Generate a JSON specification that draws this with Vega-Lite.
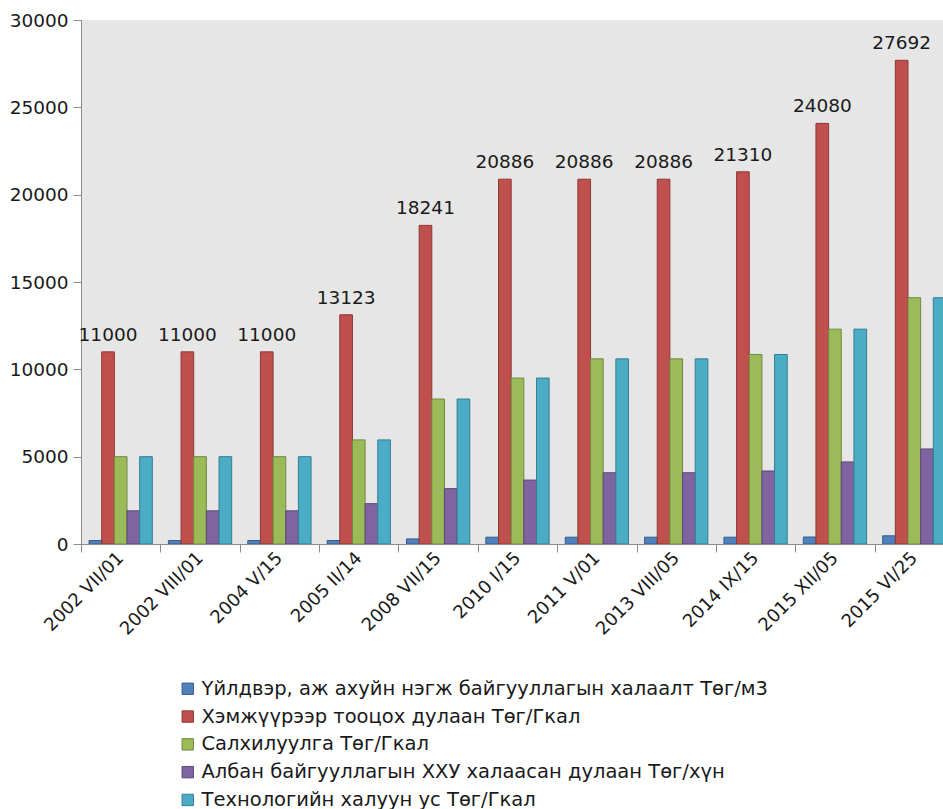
{
  "$schema": "https://vega.github.io/schema/vega-lite/v6.json",
  "width": 862,
  "height": 524,
  "autosize": {"type": "none"},
  "padding": {"left": 81, "top": 20, "right": 0, "bottom": 265},
  "config": {
    "font": "DejaVu Sans",
    "view": {"fill": "#e6e6e6", "stroke": null},
    "axis": {"domainColor": "#8c8c8c", "tickColor": "#8c8c8c", "labelColor": "#1a1a1a", "grid": false, "title": null}
  },
  "data": {
    "values": [
      {"date": "2002 VII/01", "s": 1, "v": 200}, {"date": "2002 VII/01", "s": 2, "v": 11000}, {"date": "2002 VII/01", "s": 3, "v": 5000}, {"date": "2002 VII/01", "s": 4, "v": 1900}, {"date": "2002 VII/01", "s": 5, "v": 5000},
      {"date": "2002 VIII/01", "s": 1, "v": 200}, {"date": "2002 VIII/01", "s": 2, "v": 11000}, {"date": "2002 VIII/01", "s": 3, "v": 5000}, {"date": "2002 VIII/01", "s": 4, "v": 1900}, {"date": "2002 VIII/01", "s": 5, "v": 5000},
      {"date": "2004 V/15", "s": 1, "v": 200}, {"date": "2004 V/15", "s": 2, "v": 11000}, {"date": "2004 V/15", "s": 3, "v": 5000}, {"date": "2004 V/15", "s": 4, "v": 1900}, {"date": "2004 V/15", "s": 5, "v": 5000},
      {"date": "2005 II/14", "s": 1, "v": 200}, {"date": "2005 II/14", "s": 2, "v": 13123}, {"date": "2005 II/14", "s": 3, "v": 5960}, {"date": "2005 II/14", "s": 4, "v": 2310}, {"date": "2005 II/14", "s": 5, "v": 5960},
      {"date": "2008 VII/15", "s": 1, "v": 290}, {"date": "2008 VII/15", "s": 2, "v": 18241}, {"date": "2008 VII/15", "s": 3, "v": 8300}, {"date": "2008 VII/15", "s": 4, "v": 3170}, {"date": "2008 VII/15", "s": 5, "v": 8300},
      {"date": "2010 I/15", "s": 1, "v": 390}, {"date": "2010 I/15", "s": 2, "v": 20886}, {"date": "2010 I/15", "s": 3, "v": 9500}, {"date": "2010 I/15", "s": 4, "v": 3660}, {"date": "2010 I/15", "s": 5, "v": 9500},
      {"date": "2011 V/01", "s": 1, "v": 390}, {"date": "2011 V/01", "s": 2, "v": 20886}, {"date": "2011 V/01", "s": 3, "v": 10600}, {"date": "2011 V/01", "s": 4, "v": 4080}, {"date": "2011 V/01", "s": 5, "v": 10600},
      {"date": "2013 VIII/05", "s": 1, "v": 390}, {"date": "2013 VIII/05", "s": 2, "v": 20886}, {"date": "2013 VIII/05", "s": 3, "v": 10600}, {"date": "2013 VIII/05", "s": 4, "v": 4080}, {"date": "2013 VIII/05", "s": 5, "v": 10600},
      {"date": "2014 IX/15", "s": 1, "v": 390}, {"date": "2014 IX/15", "s": 2, "v": 21310}, {"date": "2014 IX/15", "s": 3, "v": 10850}, {"date": "2014 IX/15", "s": 4, "v": 4180}, {"date": "2014 IX/15", "s": 5, "v": 10850},
      {"date": "2015 XII/05", "s": 1, "v": 400}, {"date": "2015 XII/05", "s": 2, "v": 24080}, {"date": "2015 XII/05", "s": 3, "v": 12300}, {"date": "2015 XII/05", "s": 4, "v": 4700}, {"date": "2015 XII/05", "s": 5, "v": 12300},
      {"date": "2015 VI/25", "s": 1, "v": 470}, {"date": "2015 VI/25", "s": 2, "v": 27692}, {"date": "2015 VI/25", "s": 3, "v": 14100}, {"date": "2015 VI/25", "s": 4, "v": 5440}, {"date": "2015 VI/25", "s": 5, "v": 14100}
    ]
  },
  "transform": [
    {"lookup": "s", "from": {"data": {"values": [
      {"s": 1, "series": "Үйлдвэр, аж ахуйн нэгж байгууллагын халаалт Төг/м3"},
      {"s": 2, "series": "Хэмжүүрээр тооцох дулаан Төг/Гкал"},
      {"s": 3, "series": "Салхилуулга Төг/Гкал"},
      {"s": 4, "series": "Албан байгууллагын ХХУ халаасан дулаан Төг/хүн"},
      {"s": 5, "series": "Технологийн халуун ус Төг/Гкал"}
    ]}, "key": "s", "fields": ["series"]}}
  ],
  "encoding": {
    "x": {
      "field": "date", "type": "nominal", "sort": null,
      "scale": {"paddingInner": 0, "paddingOuter": 0, "range": [0, 873]},
      "axis": {"tickBand": "extent", "tickSize": 8, "labelAngle": -45, "labelFontSize": 18, "labelPadding": 3, "labelAlign": "right", "labelBaseline": "middle"}
    },
    "xOffset": {
      "field": "s", "type": "ordinal", "sort": "ascending",
      "scale": {"paddingInner": 0, "paddingOuter": 0.635}
    },
    "y": {
      "field": "v", "type": "quantitative",
      "scale": {"domain": [0, 30000], "nice": false},
      "axis": {"values": [0, 5000, 10000, 15000, 20000, 25000, 30000], "format": "d", "tickSize": 8, "labelFontSize": 18.5, "labelPadding": 5}
    }
  },
  "layer": [
    {
      "mark": {"type": "bar", "strokeWidth": 1, "clip": true},
      "encoding": {
        "color": {
          "field": "series", "type": "nominal",
          "scale": {
            "domain": ["Үйлдвэр, аж ахуйн нэгж байгууллагын халаалт Төг/м3", "Хэмжүүрээр тооцох дулаан Төг/Гкал", "Салхилуулга Төг/Гкал", "Албан байгууллагын ХХУ халаасан дулаан Төг/хүн", "Технологийн халуун ус Төг/Гкал"],
            "range": ["#4f81bd", "#c0504d", "#9bbb59", "#8064a2", "#4bacc6"]
          },
          "legend": {
            "title": null, "orient": "none", "legendX": 97, "legendY": 659,
            "direction": "vertical", "columns": 1, "padding": 0,
            "symbolType": "square", "symbolSize": 130, "symbolStrokeWidth": 1, "symbolStrokeColor": "#555",
            "labelFontSize": 19.5, "labelColor": "#1a1a1a", "rowPadding": 6.8, "labelOffset": 4, "labelLimit": 800
          }
        },
        "stroke": {
          "field": "series", "type": "nominal",
          "scale": {
            "domain": ["Үйлдвэр, аж ахуйн нэгж байгууллагын халаалт Төг/м3", "Хэмжүүрээр тооцох дулаан Төг/Гкал", "Салхилуулга Төг/Гкал", "Албан байгууллагын ХХУ халаасан дулаан Төг/хүн", "Технологийн халуун ус Төг/Гкал"],
            "range": ["#385d8a", "#8c3836", "#71893f", "#5c4776", "#357d91"]
          },
          "legend": null
        }
      }
    },
    {
      "transform": [{"filter": "datum.s == 2"}],
      "mark": {"type": "text", "fontSize": 18.5, "color": "#1a1a1a", "baseline": "alphabetic", "dy": -11},
      "encoding": {"text": {"field": "v", "type": "quantitative", "format": "d"}}
    }
  ]
}
